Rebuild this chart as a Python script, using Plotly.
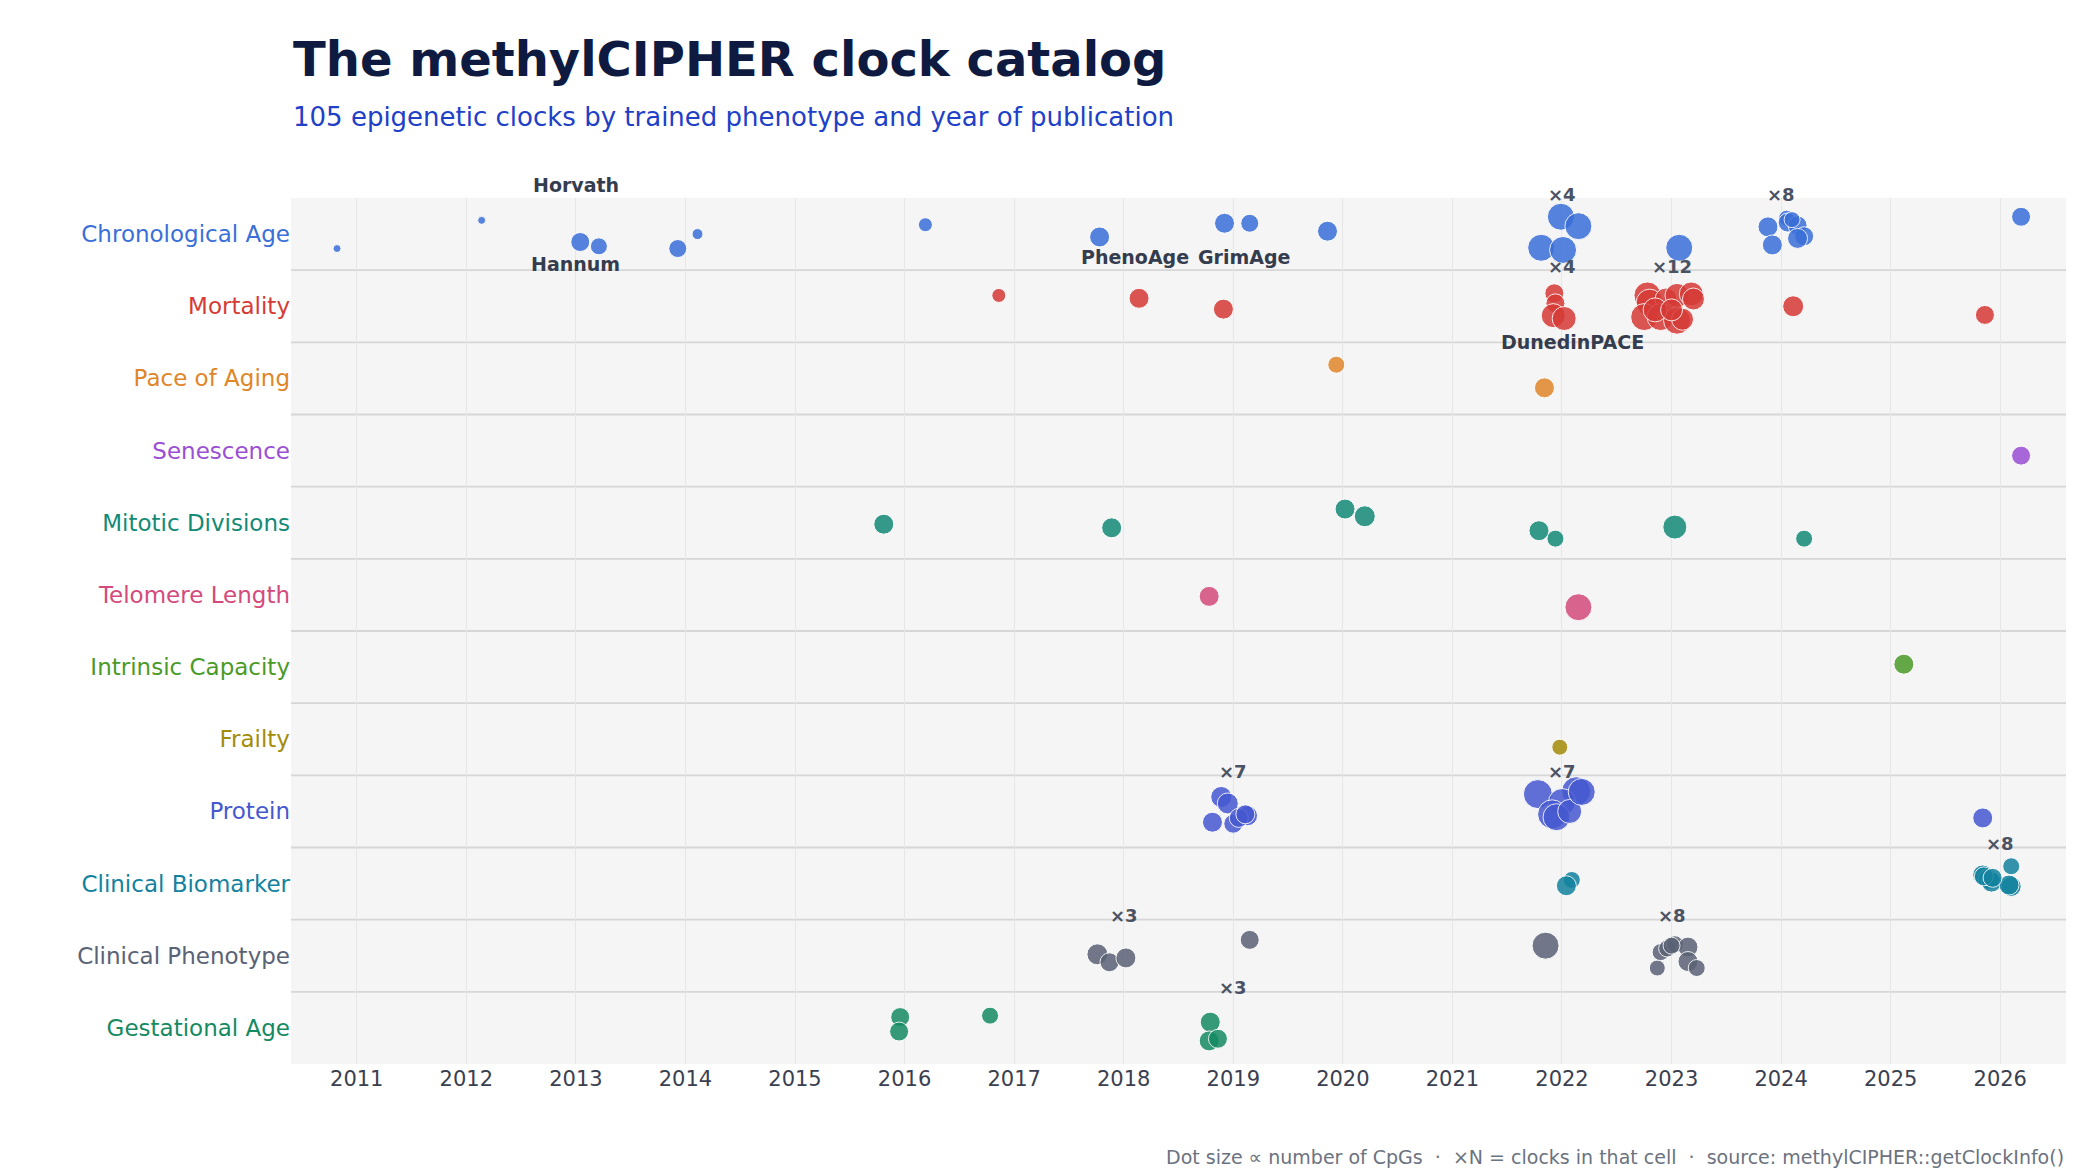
import plotly.graph_objects as go

categories = ["Chronological Age", "Mortality", "Pace of Aging", "Senescence", "Mitotic Divisions",
              "Telomere Length", "Intrinsic Capacity", "Frailty", "Protein", "Clinical Biomarker",
              "Clinical Phenotype", "Gestational Age"]
colors = ["#3a6fd8", "#d63a36", "#e0862a", "#9a4fd4", "#138a76", "#d44a7c", "#4a9a28", "#a38c0a",
          "#4658d0", "#13829f", "#5a6275", "#158a62"]

# (year, vertical jitter within row, marker diameter px) per category
clocks = {
    "Chronological Age": [
        (2010.82, 0.20, 8), (2012.14, -0.19, 8), (2013.04, 0.11, 19), (2013.21, 0.17, 17),
        (2013.93, 0.20, 18), (2014.11, 0.00, 11), (2016.19, -0.13, 14), (2017.78, 0.04, 20),
        (2018.92, -0.15, 20), (2019.15, -0.15, 18), (2019.86, -0.04, 20),
        (2021.99, -0.24, 27), (2022.15, -0.11, 27), (2021.81, 0.19, 27), (2022.01, 0.22, 27),
        (2023.07, 0.19, 27),
        (2023.88, -0.10, 20), (2024.05, -0.22, 16), (2024.06, -0.16, 19), (2024.15, -0.12, 19),
        (2024.21, 0.03, 19), (2024.15, 0.06, 20), (2023.92, 0.15, 20), (2024.10, -0.20, 16),
        (2026.19, -0.24, 19)],
    "Mortality": [
        (2016.86, -0.15, 14), (2018.14, -0.11, 20), (2018.91, 0.04, 20),
        (2021.93, -0.18, 19), (2021.94, -0.04, 19), (2021.92, 0.13, 24), (2022.02, 0.17, 24),
        (2022.78, -0.15, 27), (2022.80, -0.05, 27), (2022.95, -0.10, 22), (2023.05, -0.15, 24),
        (2023.18, -0.17, 24), (2022.75, 0.15, 27), (2022.90, 0.15, 27), (2023.05, 0.20, 27),
        (2023.10, 0.18, 22), (2022.85, 0.05, 24), (2023.00, 0.05, 22), (2023.20, -0.10, 22),
        (2024.11, 0.00, 21), (2025.86, 0.12, 19)],
    "Pace of Aging": [(2019.94, -0.19, 17), (2021.84, 0.13, 20)],
    "Senescence": [(2026.19, 0.07, 19)],
    "Mitotic Divisions": [
        (2015.81, 0.02, 20), (2017.89, 0.07, 20), (2020.02, -0.19, 20), (2020.20, -0.09, 21),
        (2021.79, 0.11, 20), (2021.94, 0.22, 17), (2023.03, 0.06, 24), (2024.21, 0.22, 17)],
    "Telomere Length": [(2018.78, 0.02, 20), (2022.15, 0.17, 27)],
    "Intrinsic Capacity": [(2025.12, -0.04, 20)],
    "Frailty": [(2021.98, 0.11, 16)],
    "Protein": [
        (2018.89, -0.20, 21), (2018.95, -0.11, 21), (2018.81, 0.15, 20), (2019.00, 0.17, 19),
        (2019.13, 0.06, 20), (2019.05, 0.09, 19), (2019.11, 0.04, 19),
        (2021.78, -0.24, 29), (2022.13, -0.28, 29), (2022.00, -0.13, 27), (2021.91, 0.04, 29),
        (2021.95, 0.08, 27), (2022.07, 0.00, 24), (2022.18, -0.27, 27),
        (2025.84, 0.09, 20)],
    "Clinical Biomarker": [
        (2022.09, -0.05, 17), (2022.04, 0.03, 20),
        (2025.84, -0.12, 20), (2025.89, -0.06, 20), (2025.92, -0.02, 20), (2026.10, -0.24, 17),
        (2026.10, 0.04, 20), (2026.08, 0.02, 20), (2025.85, -0.10, 19), (2025.93, -0.08, 19)],
    "Clinical Phenotype": [
        (2017.76, -0.02, 21), (2017.87, 0.09, 19), (2018.02, 0.03, 20), (2019.15, -0.22, 19),
        (2021.85, -0.14, 27),
        (2022.87, 0.17, 16), (2022.90, -0.05, 17), (2022.96, -0.10, 17), (2023.03, -0.16, 17),
        (2023.15, -0.12, 20), (2023.15, 0.08, 20), (2023.23, 0.17, 17), (2023.00, -0.14, 17)],
    "Gestational Age": [
        (2015.96, -0.15, 19), (2015.95, 0.05, 19), (2016.78, -0.17, 17),
        (2018.79, -0.08, 20), (2018.78, 0.18, 20), (2018.86, 0.15, 19)],
}

# cluster count labels: (category, year, text)
cluster_labels = [("Chronological Age", 2022.0, "×4"), ("Chronological Age", 2024.0, "×8"),
                  ("Mortality", 2022.0, "×4"), ("Mortality", 2023.0, "×12"),
                  ("Protein", 2019.0, "×7"), ("Protein", 2022.0, "×7"),
                  ("Clinical Biomarker", 2026.0, "×8"), ("Clinical Phenotype", 2018.0, "×3"),
                  ("Clinical Phenotype", 2023.0, "×8"), ("Gestational Age", 2019.0, "×3")]
# named clocks: (category, year, offset, text)
named_labels = [("Chronological Age", 2013.0, -0.5, "Horvath"), ("Chronological Age", 2013.0, 0.41, "Hannum"),
                ("Mortality", 2018.1, -0.5, "PhenoAge"), ("Mortality", 2019.1, -0.5, "GrimAge"),
                ("Mortality", 2022.1, 0.5, "DunedinPACE")]

year_ticks = list(range(2011, 2027))

fig = go.Figure()
for i, cat in enumerate(categories):
    pts = clocks[cat]
    fig.add_trace(go.Scatter(
        x=[p[0] for p in pts], y=[i + p[1] for p in pts], mode="markers",
        marker=dict(size=[p[2] for p in pts], color=colors[i], opacity=0.85,
                    line=dict(color="white", width=1)),
        name=cat, showlegend=False, hoverinfo="x+name"))

for cat, yr, txt in cluster_labels:
    fig.add_annotation(x=yr, y=categories.index(cat) - 0.38, text=f"<b>{txt}</b>", showarrow=False,
                       font=dict(size=18, color="#4a5263"), yanchor="bottom")
for cat, yr, off, txt in named_labels:
    fig.add_annotation(x=yr, y=categories.index(cat) + off, text=f"<b>{txt}</b>", showarrow=False,
                       font=dict(size=19, color="#343c4e"), yanchor="bottom" if off < 0 else "middle")

for k in range(len(categories) - 1):
    fig.add_shape(type="line", xref="paper", x0=0, x1=1, y0=k + 0.5, y1=k + 0.5,
                  line=dict(color="#d6d6d6", width=1.8), layer="below")

ticktext = [f"<span style='color:{c}'>{t}</span>" for t, c in zip(categories, colors)]
fig.update_layout(
    width=2080, height=1170, paper_bgcolor="white", plot_bgcolor="#f5f5f5",
    margin=dict(l=283, r=22, t=190, b=114),
    font=dict(family="DejaVu Sans"),
    xaxis=dict(range=[2010.4, 2026.6], tickvals=year_ticks, showgrid=True, gridcolor="#e6e6e6",
               zeroline=False, tickfont=dict(size=21, color="#3a4050"), ticks=""),
    yaxis=dict(range=[11.5, -0.5], tickvals=list(range(len(categories))), ticktext=ticktext,
               showgrid=False, zeroline=False, tickfont=dict(size=23), ticks=""),
)
fig.add_annotation(xref="paper", yref="paper", x=0, y=1.1605, xanchor="left", yanchor="middle",
                   text="<b>The methylCIPHER clock catalog</b>", showarrow=False,
                   font=dict(size=48, color="#0e1a40"))
fig.add_annotation(xref="paper", yref="paper", x=0, y=1.0935, xanchor="left", yanchor="middle",
                   text="105 epigenetic clocks by trained phenotype and year of publication", showarrow=False,
                   font=dict(size=26, color="#2040c8"))
fig.add_annotation(xref="paper", yref="paper", x=1, y=-0.107, xanchor="right", yanchor="middle",
                   text="Dot size ∝ number of CpGs  ·  ×N = clocks in that cell  ·  source: methylCIPHER::getClockInfo()",
                   showarrow=False, font=dict(size=19, color="#6b7280"))
fig.write_html("out.html")
